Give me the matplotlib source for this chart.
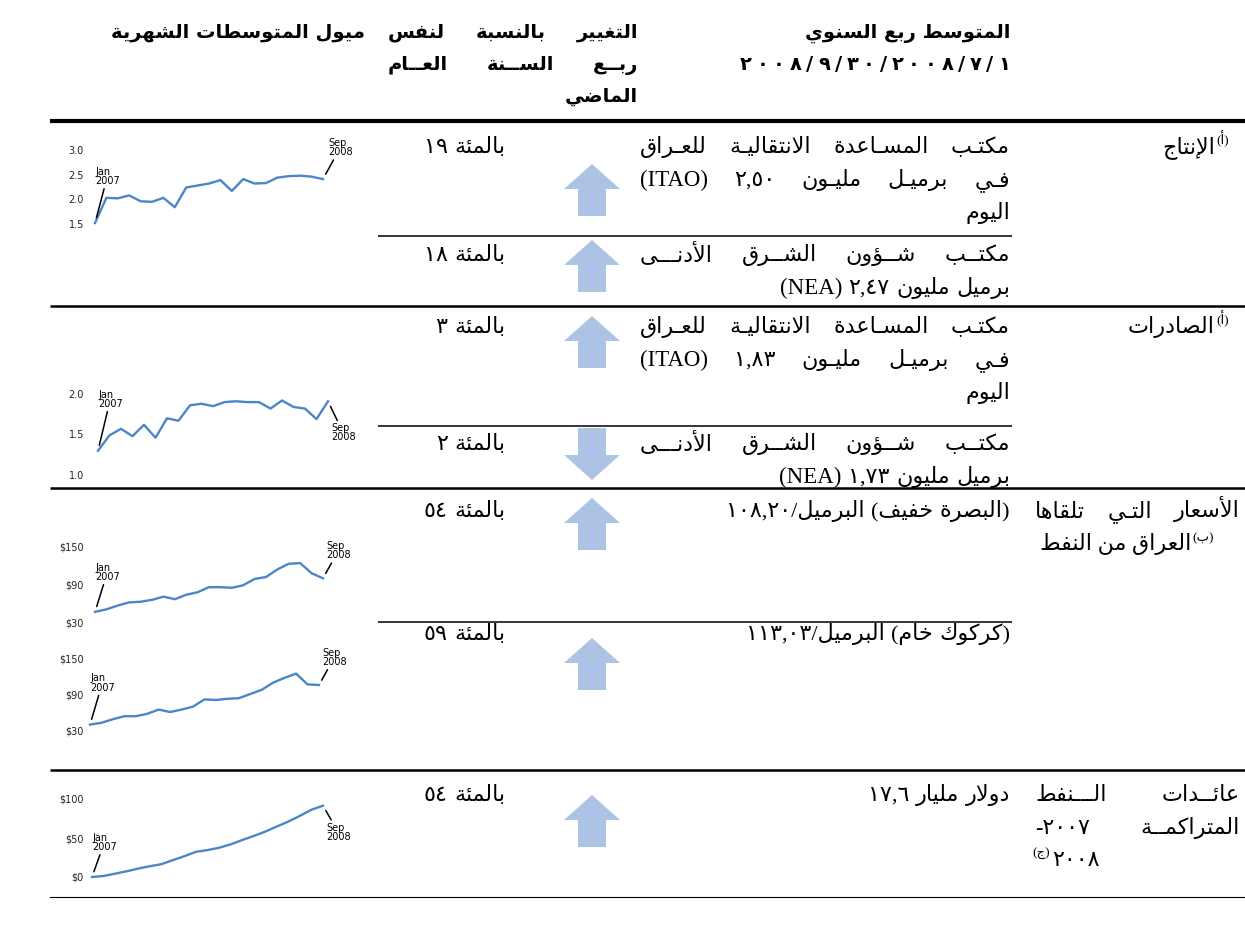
import numpy as np
import matplotlib.pyplot as plt
from matplotlib.patches import Polygon

W, H = 1245, 925

# ---------------- data ----------------
months = np.arange(21)  # Jan 2007 .. Sep 2008
production = [1.52, 2.03, 2.02, 2.08, 1.96, 1.95, 2.03, 1.84, 2.24, 2.28, 2.32,
              2.39, 2.17, 2.41, 2.32, 2.33, 2.44, 2.47, 2.48, 2.46, 2.41]
exports = [1.30, 1.49, 1.57, 1.48, 1.62, 1.46, 1.70, 1.67, 1.86, 1.88, 1.85,
           1.90, 1.91, 1.90, 1.90, 1.82, 1.92, 1.84, 1.82, 1.69, 1.91]
basra = [46, 50, 56, 61, 62, 65, 70, 66, 73, 77, 85, 85, 84, 88, 98, 101,
         113, 122, 123, 107, 99]
kirkuk = [39, 42, 48, 53, 53, 57, 64, 60, 64, 69, 81, 80, 82, 83, 90, 97,
          109, 117, 124, 106, 105]
revenue = [0, 1.3, 4.3, 7.3, 10.8, 13.8, 16.4, 21.6, 26.7, 32.3, 34.5, 37.5,
           41.8, 47.4, 52.6, 58.2, 64.7, 71.1, 78.4, 86.2, 91.4]

prod_ticks = [1.5, 2.0, 2.5, 3.0]
exp_ticks = [1.0, 1.5, 2.0]
price_ticks = [30, 90, 150]
rev_ticks = [0, 50, 100]
start_label = "Jan\n2007"
end_label = "Sep\n2008"

head_avg = ["المتوسط ربع السنوي", "٢٠٠٨/٩/٣٠/٢٠٠٨/٧/١"]
head_change = ["التغيير بالنسبة لنفس", "ربــع الســنة العــام", "الماضي"]
head_trend = ["ميول المتوسطات الشهرية"]

itao_prod = ["مكتـب المسـاعدة الانتقاليـة للعـراق", "(ITAO) ٢,٥٠ مليـون برميـل فـي", "اليوم"]
nea_prod = ["مكتــب شــؤون الشــرق الأدنـــى", "(NEA) ٢,٤٧ مليون برميل"]
itao_exp = ["مكتـب المسـاعدة الانتقاليـة للعـراق", "(ITAO) ١,٨٣ مليـون برميـل فـي", "اليوم"]
nea_exp = ["مكتــب شــؤون الشــرق الأدنـــى", "(NEA) ١,٧٣ مليون برميل"]
basra_val = ["١٠٨,٢٠/البرميل (خفيف البصرة)"]
kirkuk_val = ["١١٣,٠٣/البرميل (خام كركوك)"]
revenue_val = ["١٧,٦ مليار دولار"]

changes = ["١٩ بالمئة", "١٨ بالمئة", "٣ بالمئة", "٢ بالمئة",
           "٥٤ بالمئة", "٥٩ بالمئة", "٥٤ بالمئة"]
directions = ["up", "up", "up", "down", "up", "up", "up"]

label_prod = "الإنتاج"
label_exp = "الصادرات"
label_price = ["الأسعار التـي تلقاها", "العراق من النفط"]
label_rev = ["عائــدات الـــنفط", "المتراكمــة ٢٠٠٧-", "٢٠٠٨"]
notes = ["(أ)", "(أ)", "(ب)", "(ج)"]

# ---------------- arabic shaping + simple bidi ----------------
_forms = [("\u0621", 0xFE80, 1), ("\u0622", 0xFE81, 2), ("\u0623", 0xFE83, 2),
          ("\u0624", 0xFE85, 2), ("\u0625", 0xFE87, 2), ("\u0626", 0xFE89, 4),
          ("\u0627", 0xFE8D, 2), ("\u0628", 0xFE8F, 4), ("\u0629", 0xFE93, 2),
          ("\u062A", 0xFE95, 4), ("\u062B", 0xFE99, 4), ("\u062C", 0xFE9D, 4),
          ("\u062D", 0xFEA1, 4), ("\u062E", 0xFEA5, 4), ("\u062F", 0xFEA9, 2),
          ("\u0630", 0xFEAB, 2), ("\u0631", 0xFEAD, 2), ("\u0632", 0xFEAF, 2),
          ("\u0633", 0xFEB1, 4), ("\u0634", 0xFEB5, 4), ("\u0635", 0xFEB9, 4),
          ("\u0636", 0xFEBD, 4), ("\u0637", 0xFEC1, 4), ("\u0638", 0xFEC5, 4),
          ("\u0639", 0xFEC9, 4), ("\u063A", 0xFECD, 4), ("\u0641", 0xFED1, 4),
          ("\u0642", 0xFED5, 4), ("\u0643", 0xFED9, 4), ("\u0644", 0xFEDD, 4),
          ("\u0645", 0xFEE1, 4), ("\u0646", 0xFEE5, 4), ("\u0647", 0xFEE9, 4),
          ("\u0648", 0xFEED, 2), ("\u0649", 0xFEEF, 2), ("\u064A", 0xFEF1, 4)]
FORMS = {}
for ch, start, n in _forms:
    f = [chr(start + k) for k in range(n)] + [None] * (4 - n)
    if n == 1:
        f[1] = None
    FORMS[ch] = f
FORMS["\u0640"] = ["\u0640"] * 4
LAM_ALEF = {"\u0622": 0xFEF5, "\u0623": 0xFEF7, "\u0625": 0xFEF9, "\u0627": 0xFEFB}


def jtype(c):
    f = FORMS.get(c)
    if f is None:
        return None
    if f[2] is not None:
        return "D"
    return "R" if f[1] is not None else "U"


def shape(s):
    res = []
    i, n = 0, len(s)
    while i < n:
        c = s[i]
        t = jtype(c)
        if t is None:
            res.append(c)
            i += 1
            continue
        linkp = i > 0 and jtype(s[i - 1]) == "D" and t in "DR"
        if c == "\u0644" and i + 1 < n and s[i + 1] in LAM_ALEF:
            res.append(chr(LAM_ALEF[s[i + 1]] + (1 if linkp else 0)))
            i += 2
            continue
        linkn = t == "D" and i + 1 < n and jtype(s[i + 1]) in ("D", "R")
        iso, fin, ini, med = FORMS[c]
        if linkp and linkn:
            g = med
        elif linkp:
            g = fin
        elif linkn:
            g = ini
        else:
            g = iso
        res.append(g)
        i += 1
    return "".join(res)


def is_digit(c):
    return c.isdigit() or "\u0660" <= c <= "\u0669"


def bidi(text, base="L"):
    s = shape(text)
    n = len(s)
    cls = []
    for c in s:
        o = ord(c)
        if is_digit(c):
            cls.append("D")
        elif (0x0600 <= o <= 0x06FF) or (0xFB50 <= o <= 0xFEFF):
            cls.append("R")
        elif c.isalpha():
            cls.append("L")
        else:
            cls.append("O")
    last = base
    for i in range(n):
        if cls[i] in "LR":
            last = cls[i]
        elif cls[i] == "D":
            cls[i] = "N" if last == "R" else "L"
    for i in range(1, n - 1):
        if (cls[i] == "O" and s[i] in ",./" and is_digit(s[i - 1])
                and is_digit(s[i + 1]) and cls[i - 1] == cls[i + 1]):
            cls[i] = cls[i - 1]
    strong = lambda c: "R" if c in "RN" else "L"
    i = 0
    while i < n:
        if cls[i] == "O":
            j = i
            while j < n and cls[j] == "O":
                j += 1
            left = strong(cls[i - 1]) if i > 0 else base
            right = strong(cls[j]) if j < n else base
            d = left if left == right else base
            for k in range(i, j):
                cls[k] = d
            i = j
        else:
            i += 1
    lev = {"L": 0, "R": 1, "N": 2} if base == "L" else {"L": 2, "R": 1, "N": 2}
    levels = [lev[c] for c in cls]
    order = list(range(n))
    for lv in range(max(levels + [0]), 0, -1):
        i = 0
        while i < n:
            if levels[order[i]] >= lv:
                j = i
                while j < n and levels[order[j]] >= lv:
                    j += 1
                order[i:j] = order[i:j][::-1]
                i = j
            else:
                i += 1
    mirror = {"(": ")", ")": "("}
    return "".join(mirror.get(s[k], s[k]) if levels[k] % 2 else s[k] for k in order)


# ---------------- figure ----------------
fig = plt.figure(figsize=(W / 100, H / 100), dpi=100)
ax = fig.add_axes([0, 0, 1, 1])
ax.set_xlim(0, W)
ax.set_ylim(H, 0)
ax.axis("off")
renderer = fig.canvas.get_renderer()

BODY_FONT = ["Liberation Serif", "DejaVu Sans"]
HEAD_FONT = ["DejaVu Sans"]
BODY_SIZE = 16
LATIN_SIZE = 16.5
HEAD_SIZE = 14


def layout(arts, x_right, x_left, space):
    widths = [a.get_window_extent(renderer).width for a in arts]
    n = len(arts)
    gap = space
    if x_left is not None and n > 1:
        gap = max((x_right - x_left - sum(widths)) / (n - 1), space)
    x = x_right - sum(widths) - gap * (n - 1)
    for a, w in zip(arts, widths):
        a.set_x(x)
        x += w + gap
    return arts


def put(x_right, y, text, x_left=None, base="L", size=BODY_SIZE, bold=False,
        family=BODY_FONT, ha="right"):
    """RTL words: whole line reordered, optionally justified."""
    vis = bidi(text, base)
    kw = dict(fontsize=size, fontweight="bold" if bold else "normal",
              family=family, va="baseline", color="black")
    if x_left is None:
        return ax.text(x_right, y, vis, ha=ha, **kw)
    words = [w for w in vis.split(" ") if w]
    arts = [ax.text(0, y, w, ha="left", **kw) for w in words]
    return layout(arts, x_right, x_left, size * 0.35)[-1]


def put_tokens(x_right, y, text, x_left=None, size=BODY_SIZE):
    """mixed lines: tokens kept in written order from left to right"""
    arts = []
    for tok in text.split(" "):
        latin = any(c.isascii() and c.isalpha() for c in tok)
        arts.append(ax.text(0, y, bidi(tok, "L"), ha="left", va="baseline",
                            fontsize=LATIN_SIZE if latin else size,
                            family=BODY_FONT, color="black"))
    return layout(arts, x_right, x_left, size * 0.4)


def put_spaced(x_right, y, text, x_left, size=HEAD_SIZE):
    arts = [ax.text(0, y, c, ha="left", va="baseline", fontsize=size,
                    fontweight="bold", family=HEAD_FONT) for c in text]
    layout(arts, x_right, x_left, 0)


def is_mixed(txt):
    return any(is_digit(c) or (c.isascii() and c.isalpha()) for c in txt)


# headers
put(1010, 38, head_avg[0], bold=True, size=HEAD_SIZE, family=HEAD_FONT)
put_spaced(1010, 70, head_avg[1], x_left=740)
put(638, 38, head_change[0], x_left=388, bold=True, size=HEAD_SIZE, family=HEAD_FONT)
put(638, 70, head_change[1], x_left=388, bold=True, size=HEAD_SIZE, family=HEAD_FONT)
put(638, 102, head_change[2], bold=True, size=HEAD_SIZE, family=HEAD_FONT)
put(365, 38, head_trend[0], bold=True, size=HEAD_SIZE, family=HEAD_FONT)

# rules
ax.plot([50, W], [121, 121], color="black", lw=3.0, solid_capstyle="butt")
for yy in [306, 488, 770]:
    ax.plot([50, W], [yy, yy], color="black", lw=1.8, solid_capstyle="butt")
for yy in [236, 426, 622]:
    ax.plot([378, 1012], [yy, yy], color="black", lw=1.1, solid_capstyle="butt")
ax.plot([50, W], [897, 897], color="black", lw=0.8)

# value column
cells = [itao_prod, nea_prod, itao_exp, nea_exp, basra_val, kirkuk_val, revenue_val]
cell_y = [153, 261, 333, 450, 517, 640, 801]
LINE_H = 33
for lines, y0 in zip(cells, cell_y):
    for k, txt in enumerate(lines):
        justify = len(lines) > 1 and k < len(lines) - 1
        xl = 640 if justify else None
        if is_mixed(txt):
            put_tokens(1010, y0 + k * LINE_H, txt, x_left=xl)
        else:
            put(1010, y0 + k * LINE_H, txt, x_left=xl)

# change column + arrows
arrow_top = [164, 240, 316, 428, 498, 638, 795]
ARROW_COL = "#adc3e6"
for txt, d, y0, top in zip(changes, directions, cell_y, arrow_top):
    put_tokens(505, y0, txt)
    cx, h, w, bw, hh = 592, 52, 56, 28, 25
    if d == "up":
        pts = [(cx, top), (cx + w / 2, top + hh), (cx + bw / 2, top + hh),
               (cx + bw / 2, top + h), (cx - bw / 2, top + h),
               (cx - bw / 2, top + hh), (cx - w / 2, top + hh)]
    else:
        b = top + h
        pts = [(cx, b), (cx + w / 2, b - hh), (cx + bw / 2, b - hh),
               (cx + bw / 2, top), (cx - bw / 2, top),
               (cx - bw / 2, b - hh), (cx - w / 2, b - hh)]
    ax.add_patch(Polygon(pts, closed=True, facecolor=ARROW_COL, edgecolor="none"))

# label column
SUP = 9.5


def sup_after(art, text, dy=-9):
    bb = art.get_window_extent(renderer)
    ax.text(bb.x1 + 1, art.get_position()[1] + dy, bidi(text), fontsize=SUP,
            family=BODY_FONT, va="baseline", ha="left")


t = put(1215, 153, label_prod)
sup_after(t, notes[0])
t = put(1215, 333, label_exp)
sup_after(t, notes[1])
put(1240, 517, label_price[0], x_left=1035)
t = put(1040, 550, label_price[1], ha="left")
sup_after(t, notes[2])
put(1240, 801, label_rev[0], x_left=1035)
put(1240, 834, label_rev[1], x_left=1035, base="R")
t = put(1052, 866, label_rev[2], ha="left")
ax.text(1050, 857, bidi(notes[3]), fontsize=SUP, family=BODY_FONT,
        va="baseline", ha="right")

# sparklines
LINE_COL = "#4a86c8"
spark = [
    (production, prod_ticks, ["1.5", "2.0", "2.5", "3.0"], (95, 323, 150, 224), 37, (5, 22)),
    (exports, exp_ticks, ["1.0", "1.5", "2.0"], (98, 328, 394, 475), 42, (3, -22)),
    (basra, price_ticks, ["$30", "$90", "$150"], (95, 323, 546, 622), 30, (3, 18)),
    (kirkuk, price_ticks, ["$30", "$90", "$150"], (90, 319, 658, 730), 32, (3, 18)),
    (revenue, rev_ticks, ["$0", "$50", "$100"], (92, 323, 799, 877), 25, (3, -17)),
]
for vals, ticks, tlabels, (x0, x1, y0, y1), jan_dy, (sep_dx, sep_dy) in spark:
    sax = fig.add_axes([x0 / W, 1 - y1 / H, (x1 - x0) / W, (y1 - y0) / H])
    sax.plot(months, vals, color=LINE_COL, lw=1.7, clip_on=False,
             solid_joinstyle="round")
    sax.set_xlim(months[0], months[-1])
    sax.set_ylim(ticks[0], ticks[-1])
    sax.set_xticks([])
    sax.set_yticks(ticks)
    sax.set_yticklabels(tlabels)
    sax.tick_params(axis="y", length=0, pad=(x0 - 84) * 0.72, labelsize=7,
                    labelcolor="#222222")
    for sp in sax.spines.values():
        sp.set_visible(False)
    sax.patch.set_alpha(0)
    ap = dict(arrowstyle="-", lw=1.1, color="black", shrinkA=0, shrinkB=4)
    sax.annotate(start_label, xy=(months[0], vals[0]), xytext=(0, jan_dy * 0.72),
                 textcoords="offset points", ha="left",
                 va="bottom", fontsize=7, linespacing=0.9, arrowprops=ap,
                 annotation_clip=False)
    sax.annotate(end_label, xy=(months[-1], vals[-1]),
                 xytext=(sep_dx * 0.72, sep_dy * 0.72), textcoords="offset points",
                 ha="left", va="bottom" if sep_dy > 0 else "top", fontsize=7,
                 linespacing=0.9, arrowprops=ap, annotation_clip=False)

fig.savefig("out.png", dpi=100)
